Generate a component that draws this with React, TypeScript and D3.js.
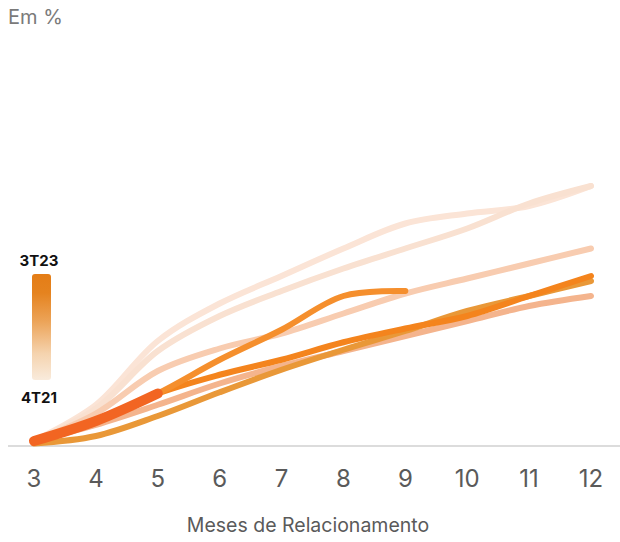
import React from "react";
import * as d3 from "d3";

// Months of relationship on the x axis
const months = [3, 4, 5, 6, 7, 8, 9, 10, 11, 12];

// Cohorts, oldest to newest
const cohorts = ["4T21", "1T22", "2T22", "3T22", "4T22", "1T23", "2T23", "3T23"];

// Cumulative values (%) per cohort, starting at month 3
const s4T21 = [0.2, 1.65, 4.2, 5.7, 6.8, 7.9, 8.9, 9.3, 9.6, 10.4];
const s1T22 = [0.2, 1.5, 3.8, 5.2, 6.2, 7.1, 7.9, 8.7, 9.7, 10.4];
const s2T22 = [0.2, 1.3, 3.0, 3.9, 4.5, 5.3, 6.1, 6.7, 7.3, 7.9];
const s3T22 = [0.2, 0.85, 1.65, 2.5, 3.2, 3.8, 4.4, 5.0, 5.6, 6.0];
const s4T22 = [0.1, 0.4, 1.2, 2.15, 3.05, 3.85, 4.6, 5.4, 6.0, 6.6];
const s1T23 = [0.2, 1.0, 2.1, 2.85, 3.45, 4.15, 4.7, 5.2, 6.0, 6.8];
const s2T23 = [0.2, 1.0, 2.1, 3.45, 4.65, 6.0, 6.2];
const s3T23 = [0.2, 1.0, 2.1];

const seriesValues = [s4T21, s1T22, s2T22, s3T22, s4T22, s1T23, s2T23, s3T23];
const seriesColors = ["#fbe4d6", "#f9e1d1", "#f8ccb0", "#f4b48d", "#e99838", "#f4841d", "#f58f2d", "#f26522"];
const seriesWidths = [6, 6, 6, 6, 6, 6, 6, 10];

const W = 620;
const H = 542;

export default function App() {
  const x = d3.scaleLinear().domain([3, 12]).range([34, 591]);
  const y = d3.scaleLinear().domain([0, 12]).range([446, 146]);

  const line = d3
    .line<number>()
    .x((_, i) => x(months[i]))
    .y((d) => y(d))
    .curve(d3.curveCatmullRom.alpha(0.5));

  const font = "Inter, 'Noto Sans', sans-serif";

  return (
    <svg
      width={W}
      height={H}
      style={{ position: "absolute", left: 0, top: 0, background: "#fff" }}
    >
      <defs>
        <linearGradient id="legendGrad" x1="0" y1="0" x2="0" y2="1">
          <stop offset="0%" stopColor="#e47d16" />
          <stop offset="18%" stopColor="#e5831f" />
          <stop offset="45%" stopColor="#eca459" />
          <stop offset="75%" stopColor="#f5d3ae" />
          <stop offset="100%" stopColor="#f9ebdc" />
        </linearGradient>
      </defs>

      <text x={8} y={24} fontFamily={font} fontSize={20} fill="#7a7a7a">
        Em %
      </text>

      {/* baseline */}
      <line x1={8} x2={620} y1={y(0)} y2={y(0)} stroke="#dcdcdc" strokeWidth={2} />

      {/* cohort curves */}
      {seriesValues.map((vals, i) => (
        <path
          key={cohorts[i]}
          d={line(vals) || ""}
          fill="none"
          stroke={seriesColors[i]}
          strokeWidth={seriesWidths[i]}
          strokeLinecap="round"
          strokeLinejoin="round"
        />
      ))}

      {/* x tick labels */}
      {months.map((m) => (
        <text
          key={m}
          x={x(m)}
          y={487}
          textAnchor="middle"
          fontFamily={font}
          fontSize={24}
          fill="#5a5a5a"
        >
          {m}
        </text>
      ))}

      <text
        x={308}
        y={532}
        textAnchor="middle"
        fontFamily={font}
        fontSize={19.5}
        fill="#5a5a5a"
      >
        Meses de Relacionamento
      </text>

      {/* cohort color legend */}
      <text x={39} y={266} textAnchor="middle" fontFamily={font} fontSize={15} fontWeight={700} fill="#111">
        {cohorts[cohorts.length - 1]}
      </text>
      <rect x={32} y={274} width={19} height={106} rx={3} fill="url(#legendGrad)" />
      <text x={39} y={403} textAnchor="middle" fontFamily={font} fontSize={15} fontWeight={700} fill="#111">
        {cohorts[0]}
      </text>
    </svg>
  );
}
